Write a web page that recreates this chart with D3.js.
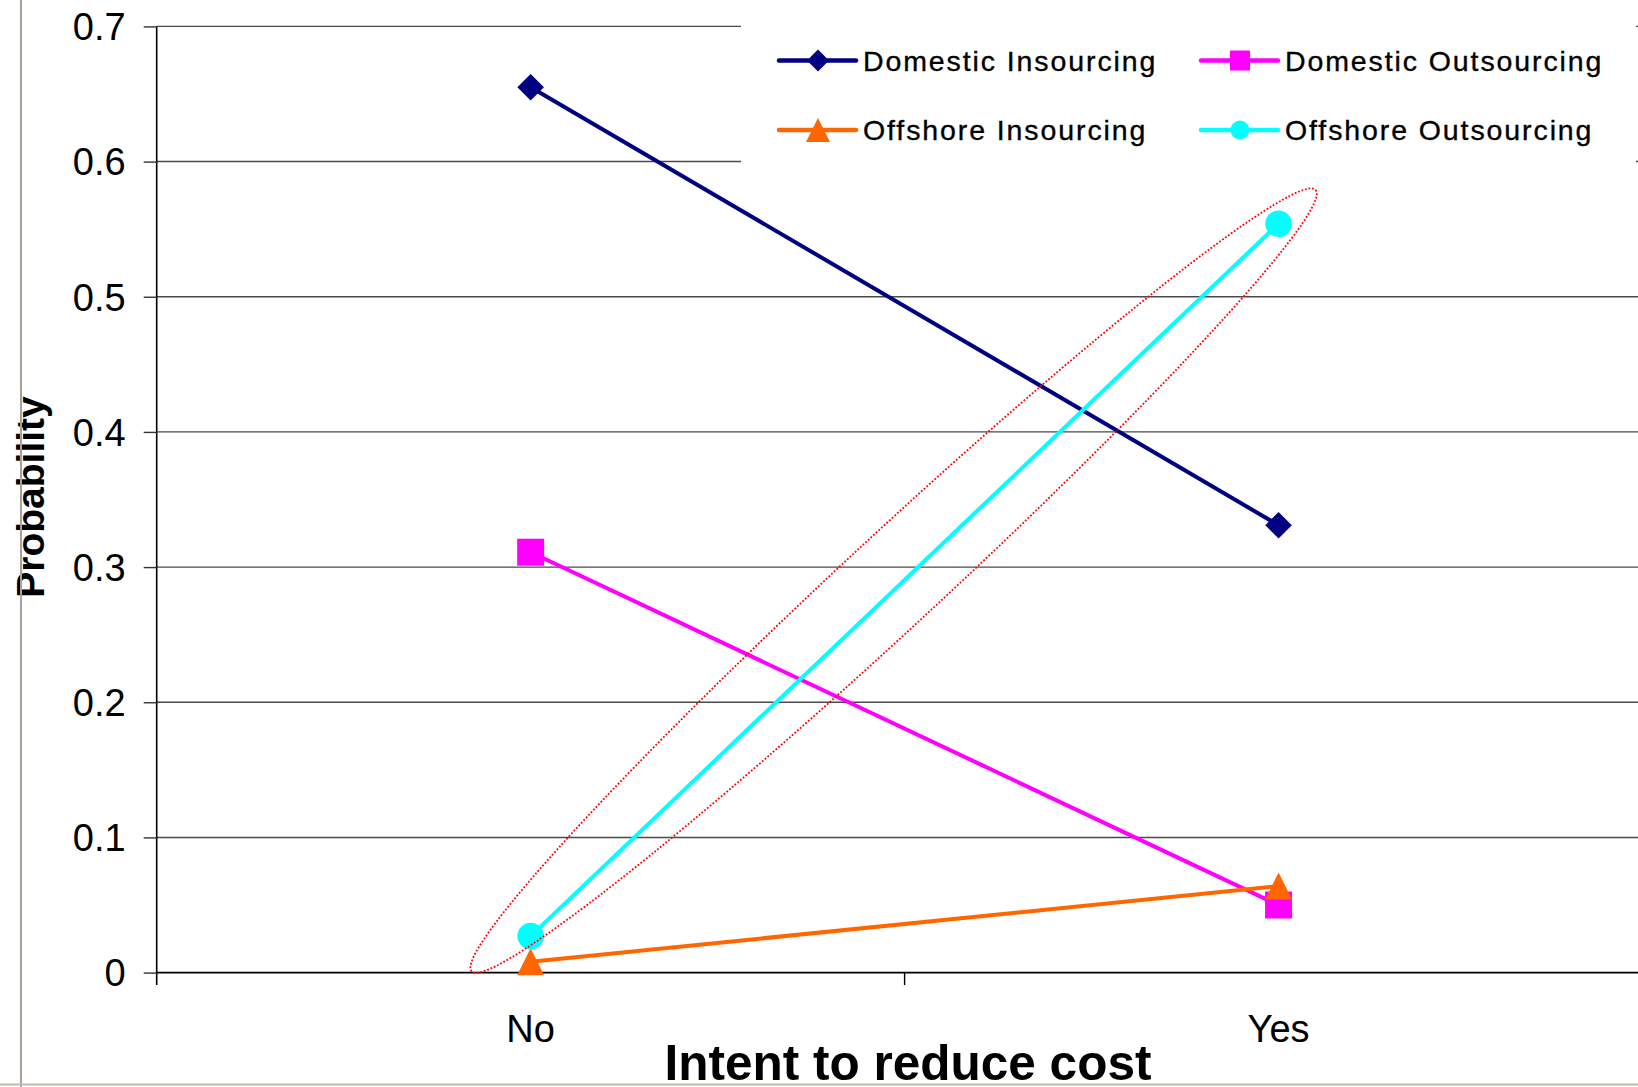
<!DOCTYPE html>
<html>
<head>
<meta charset="utf-8">
<script src="https://cdn.jsdelivr.net/npm/d3@7"></script>
<style>
  html, body { margin: 0; padding: 0; background: #ffffff; }
  svg { display: block; }
</style>
</head>
<body>
<svg id="chart" width="1638" height="1087"></svg>
<script>
// ---- data ----
const categories = ["No", "Yes"];
const seriesNames = ["Domestic Insourcing", "Domestic Outsourcing", "Offshore Insourcing", "Offshore Outsourcing"];
const domesticInsourcing  = [0.655, 0.331];
const domesticOutsourcing = [0.311, 0.050];
const offshoreInsourcing  = [0.008, 0.064];
const offshoreOutsourcing = [0.027, 0.554];
const yTicks = [0, 0.1, 0.2, 0.3, 0.4, 0.5, 0.6, 0.7];
const yTickLabels = ["0", "0.1", "0.2", "0.3", "0.4", "0.5", "0.6", "0.7"];
const xTitle = "Intent to reduce cost";
const yTitle = "Probability";

// ---- styles ----
const colors = ["#000080", "#FF00FF", "#FF6600", "#00FFFF"];
const markers = ["diamond", "square", "triangle", "circle"];
const values = [domesticInsourcing, domesticOutsourcing, offshoreInsourcing, offshoreOutsourcing];

const svg = d3.select("#chart");
svg.append("rect").attr("width", 1638).attr("height", 1087).attr("fill", "#fff");

const x = d3.scaleBand().domain(categories).range([156.7, 1652.5]);
const xc = c => x(c) + x.bandwidth() / 2;
const y = d3.scaleLinear().domain([0, 0.7]).range([972.6, 26.4]);

// gridlines
svg.append("g").selectAll("line").data(yTicks.filter(d => d > 0)).join("line")
  .attr("x1", 156.7).attr("x2", 1638)
  .attr("y1", d => y(d)).attr("y2", d => y(d))
  .attr("stroke", "#4a4a4a").attr("stroke-width", 1.4);

// y axis
const yAxis = d3.axisLeft(y).tickValues(yTicks).tickSize(13).tickPadding(18)
  .tickFormat((d, i) => yTickLabels[i]);
const gy = svg.append("g").attr("transform", "translate(156.7,0)").call(yAxis);
gy.select(".domain").attr("d", `M0,${y(0.7)}V${y(0) + 12.5}`).attr("stroke", "#000").attr("stroke-width", 1.6);
gy.selectAll(".tick line").attr("stroke", "#333").attr("stroke-width", 1.4);
gy.selectAll(".tick text").attr("font-family", "Liberation Sans, Arial, sans-serif")
  .attr("font-size", 38).attr("fill", "#000").attr("dy", "0.35em");

// x axis
const gx = svg.append("g").attr("transform", `translate(0,${y(0)})`);
gx.append("line").attr("x1", 156.7).attr("x2", 1638).attr("y1", 0).attr("y2", 0)
  .attr("stroke", "#000").attr("stroke-width", 1.6);
gx.selectAll("line.tk").data(categories.slice(1)).join("line").attr("class", "tk")
  .attr("x1", d => x(d)).attr("x2", d => x(d)).attr("y1", 0).attr("y2", 12.5)
  .attr("stroke", "#000").attr("stroke-width", 1.4);
gx.selectAll("text").data(categories).join("text")
  .attr("x", d => xc(d)).attr("y", 69.5)
  .attr("text-anchor", "middle")
  .attr("font-family", "Liberation Sans, Arial, sans-serif").attr("font-size", 38)
  .attr("fill", "#000").text(d => d);

// axis titles
svg.append("text").attr("x", 908).attr("y", 1080).attr("text-anchor", "middle")
  .attr("font-family", "Liberation Sans, Arial, sans-serif").attr("font-weight", "bold")
  .attr("font-size", 49.5).attr("fill", "#000").text(xTitle);
svg.append("text").attr("transform", "translate(44,497) rotate(-90)").attr("text-anchor", "middle")
  .attr("font-family", "Liberation Sans, Arial, sans-serif").attr("font-weight", "bold")
  .attr("font-size", 39).attr("fill", "#000").text(yTitle);

// marker paths
function markerPath(type, s) {
  if (type === "diamond") return `M0,${-s}L${s},0L0,${s}L${-s},0Z`;
  if (type === "square") return `M${-s},${-s}H${s}V${s}H${-s}Z`;
  if (type === "triangle") return `M0,${-s}L${s},${s}H${-s}Z`;
  return d3.symbol(d3.symbolCircle, Math.PI * s * s)();
}
const markerSize = [13.3, 13.5, 13.5, 13.3];

// series
const line = d3.line().x((d, i) => xc(categories[i])).y(d => y(d));
values.forEach((vals, si) => {
  const g = svg.append("g");
  g.append("path").datum(vals).attr("d", line).attr("fill", "none")
    .attr("stroke", colors[si]).attr("stroke-width", 4);
  g.selectAll("path.m").data(vals).join("path").attr("class", "m")
    .attr("transform", (d, i) => `translate(${xc(categories[i])},${y(d)})`)
    .attr("d", markerPath(markers[si], markerSize[si]))
    .attr("fill", colors[si]);
});

// annotation ellipse around Offshore Outsourcing
const tipA = [xc("No") - 59, y(0.001)];
const tipB = [xc("Yes") + 37, y(0.579)];
const cx = (tipA[0] + tipB[0]) / 2, cy = (tipA[1] + tipB[1]) / 2;
const rx = Math.hypot(tipB[0] - tipA[0], tipB[1] - tipA[1]) / 2;
const ang = Math.atan2(tipB[1] - tipA[1], tipB[0] - tipA[0]) * 180 / Math.PI;
svg.append("ellipse").attr("cx", 0).attr("cy", 0).attr("rx", rx).attr("ry", 47)
  .attr("transform", `translate(${cx},${cy}) rotate(${ang})`)
  .attr("fill", "none").attr("stroke", "#FF0000").attr("stroke-width", 1.8)
  .attr("stroke-dasharray", "1.8,1.8");

// legend
const lg = svg.append("g");
lg.append("rect").attr("x", 741).attr("y", 20).attr("width", 895).attr("height", 146).attr("fill", "#fff");
const legPos = [[779, 60.5], [1201, 60.5], [779, 130], [1201, 130]];
const legMarkerSize = [11, 10, 12, 9.5];
seriesNames.forEach((name, si) => {
  const [lx, ly] = legPos[si];
  lg.append("line").attr("x1", lx).attr("x2", lx + 77).attr("y1", ly).attr("y2", ly)
    .attr("stroke", colors[si]).attr("stroke-width", 4.5).attr("stroke-linecap", "round");
  lg.append("path").attr("transform", `translate(${lx + 39},${ly})`)
    .attr("d", markerPath(markers[si], legMarkerSize[si])).attr("fill", colors[si]);
  lg.append("text").attr("x", lx + 84).attr("y", ly + 10)
    .attr("font-family", "Liberation Sans, Arial, sans-serif").attr("font-size", 28.5)
    .attr("letter-spacing", "1.9px").attr("stroke", "#000").attr("stroke-width", 0.35)
    .attr("fill", "#000").text(name);
});

// frame borders
svg.append("line").attr("x1", 21).attr("x2", 21).attr("y1", 0).attr("y2", 1087)
  .attr("stroke", "#a9a097").attr("stroke-width", 2);
svg.append("line").attr("x1", 0).attr("x2", 1638).attr("y1", 1084.5).attr("y2", 1084.5)
  .attr("stroke", "#c0b8ae").attr("stroke-width", 2);
</script>
</body>
</html>
